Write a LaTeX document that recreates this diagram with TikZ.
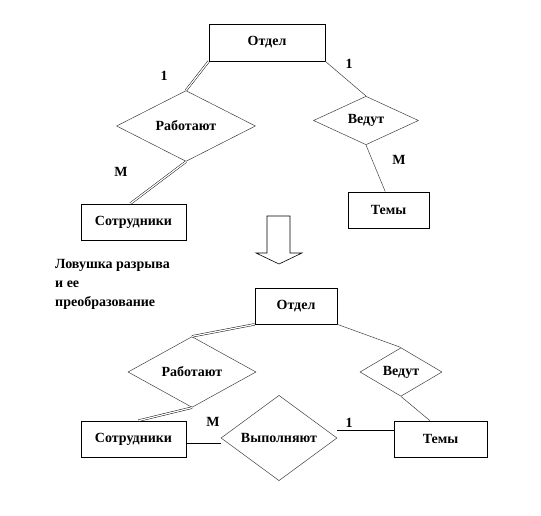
\documentclass[tikz,border=0pt]{standalone}
\usepackage{fontspec}
\setmainfont{Liberation Serif}
\usetikzlibrary{shapes.geometric}
\begin{document}
\begin{tikzpicture}[x=1pt,y=-1pt,
  ent/.style={draw=black,line width=0.7pt,rectangle,inner sep=0pt,font=\bfseries\fontsize{14}{16}\selectfont},
  rel/.style={draw=black!75,line width=0.5pt,diamond,inner sep=0pt,font=\bfseries\fontsize{14}{16}\selectfont},
  card/.style={font=\bfseries\fontsize{14}{16}\selectfont,inner sep=0pt},
  thinln/.style={draw=black!75,line width=0.5pt},
  dbl/.style={draw=black,line width=0.45pt,double=white,double distance=1.3pt}]
\useasboundingbox (0,0) rectangle (541,516);
% top diagram
\node[ent,minimum width=116pt,minimum height=37pt] (o1) at (267,42.5) {Отдел};
\node[rel,minimum width=139pt,minimum height=58pt] (r1) at (186,126) {Работают};
\node[rel,minimum width=105pt,minimum height=47pt] (v1) at (366,120.5) {Ведут};
\node[ent,minimum width=105pt,minimum height=36pt] (s1) at (133.5,222) {Сотрудники};
\node[ent,minimum width=81pt,minimum height=36pt] (t1) at (388.5,210) {Темы};
\node[card] (c1) at (164,76) {1};
\node[card] (c2) at (349,64) {1};
\node[card] (c3) at (121,172) {M};
\node[card] (c4) at (399,160) {M};
\draw[dbl] (o1.south west) -- (r1.north);
\draw[thinln] (o1.south east) -- (v1.north);
\draw[dbl] (r1.south) -- (s1.100);
\draw[thinln] (v1.south) -- (t1.100);
% arrow
\draw[black,line width=0.6pt] (267,216) -- (290,216) -- (290,253) -- (302,253) -- (279,264) -- (256,253) -- (267,253) -- cycle;
% caption
\node[anchor=north west,align=left,inner sep=0pt,font=\bfseries\fontsize{14}{19}\selectfont] (cap) at (55,259) {Ловушка разрыва\\и ее\\преобразование};
% bottom diagram
\node[ent,minimum width=82pt,minimum height=36pt] (o2) at (296,306) {Отдел};
\node[rel,minimum width=128pt,minimum height=48pt] (r2) at (192,372) {Работают};
\node[rel,minimum width=82pt,minimum height=48pt] (v2) at (401,372) {Ведут};
\node[ent,minimum width=105pt,minimum height=36pt] (s2) at (133.5,439) {Сотрудники};
\node[rel,minimum width=116pt,minimum height=60pt] (w) at (279,438) {Выполняют};
\node[ent,minimum width=93pt,minimum height=36pt] (t2) at (440.5,439) {Темы};
\node[card] (c5) at (213,422) {M};
\node[card] (c6) at (349,423) {1};
\draw[dbl] (o2.south west) -- (r2.north);
\draw[thinln] (o2.south east) -- (v2.north);
\draw[dbl] (r2.south) -- (s2.75);
\draw[thinln] (v2.south) -- (t2.120);
\draw[black,line width=0.6pt] (s2.-5) -- (s2.-5 -| w.west);
\draw[black,line width=0.6pt] (w.east |- t2.170) -- (t2.170);
\end{tikzpicture}
\end{document}
